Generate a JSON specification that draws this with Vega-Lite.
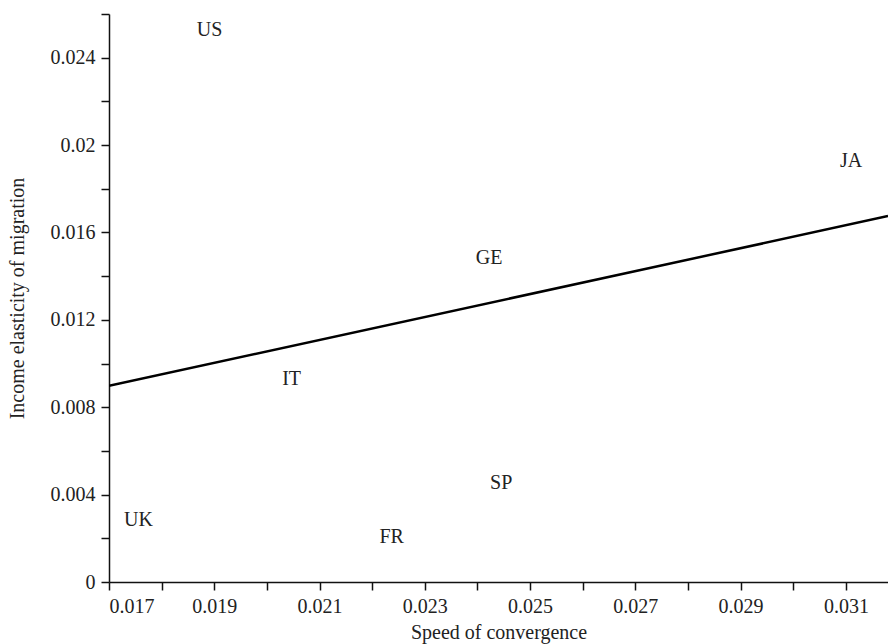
{
  "$schema": "https://vega.github.io/schema/vega-lite/v6.json",
  "width": 779,
  "height": 568,
  "autosize": {"type": "none"},
  "padding": {"left": 109, "top": 14, "right": 0, "bottom": 62},
  "background": "white",
  "config": {
    "view": {"stroke": null},
    "font": "Liberation Serif",
    "axis": {
      "grid": false,
      "domainColor": "#111",
      "domainWidth": 1.5,
      "tickColor": "#111",
      "tickWidth": 1.5,
      "tickSize": 8,
      "labelFont": "Liberation Serif",
      "labelFontSize": 20,
      "labelColor": "#222",
      "titleFont": "Liberation Serif",
      "titleFontSize": 20,
      "titleFontWeight": "normal",
      "titleColor": "#222",
      "labelPadding": 6
    }
  },
  "datasets": {
    "countries": [
      {"country": "US", "speed": 0.01891, "elasticity": 0.02528},
      {"country": "JA", "speed": 0.0311, "elasticity": 0.01926},
      {"country": "GE", "speed": 0.02422, "elasticity": 0.01483},
      {"country": "IT", "speed": 0.02047, "elasticity": 0.0093},
      {"country": "SP", "speed": 0.02445, "elasticity": 0.00455},
      {"country": "UK", "speed": 0.01756, "elasticity": 0.00282},
      {"country": "FR", "speed": 0.02237, "elasticity": 0.00204}
    ],
    "fit": [
      {"speed": 0.017, "elasticity": 0.00898},
      {"speed": 0.0318, "elasticity": 0.01675}
    ]
  },
  "layer": [
    {
      "data": {"name": "fit"},
      "mark": {"type": "line", "color": "#000", "strokeWidth": 2.5, "clip": true},
      "encoding": {
        "x": {
          "field": "speed", "type": "quantitative",
          "scale": {"domain": [0.017, 0.0318], "nice": false, "zero": false},
          "axis": {
            "title": "Speed of convergence",
            "values": [0.017, 0.018, 0.019, 0.02, 0.021, 0.022, 0.023, 0.024, 0.025, 0.026, 0.027, 0.028, 0.029, 0.03, 0.031],
            "labelExpr": "round(datum.value*1000) % 2 == 1 ? format(datum.value, '.3f') : ''",
            "titlePadding": 6
          }
        },
        "y": {
          "field": "elasticity", "type": "quantitative",
          "scale": {"domain": [0, 0.026], "nice": false},
          "axis": {
            "title": "Income elasticity of migration",
            "values": [0, 0.002, 0.004, 0.006, 0.008, 0.01, 0.012, 0.014, 0.016, 0.018, 0.02, 0.022, 0.024, 0.026],
            "labelExpr": "round(datum.value*1000) % 4 == 0 ? '' + datum.value : ''",
            "titlePadding": 23
          }
        }
      }
    },
    {
      "data": {"name": "countries"},
      "mark": {"type": "text", "font": "Liberation Serif", "fontSize": 20, "color": "#222", "align": "center", "baseline": "middle"},
      "encoding": {
        "x": {"field": "speed", "type": "quantitative"},
        "y": {"field": "elasticity", "type": "quantitative"},
        "text": {"field": "country"}
      }
    }
  ]
}
